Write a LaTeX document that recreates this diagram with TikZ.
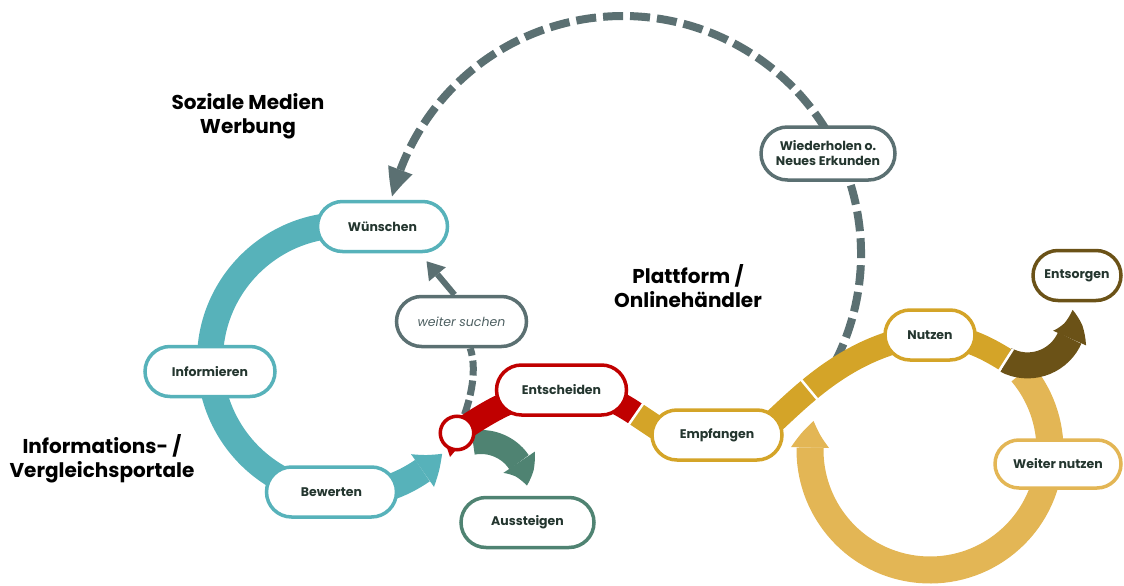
\documentclass[tikz,border=0pt]{standalone}
\usepackage{fontspec}
\setmainfont{Poppins}
\usetikzlibrary{arrows.meta,bending,shapes.misc,backgrounds,calc}
\definecolor{cteal}{HTML}{57B2BA}
\definecolor{cred}{HTML}{C00000}
\definecolor{cgreen}{HTML}{4F8372}
\definecolor{cgold}{HTML}{D4A428}
\definecolor{clgold}{HTML}{E3B655}
\definecolor{cbrown}{HTML}{6B5217}
\definecolor{cgray}{HTML}{5B7072}
\definecolor{ctext}{HTML}{24362F}
\begin{document}
\begin{tikzpicture}[x=1pt,y=-1pt,
  box/.style={rounded rectangle, draw=#1, line width=3.5pt, fill=white,
    minimum width=132pt, minimum height=50pt, inner sep=1pt, text=ctext,
    font=\fontsize{12.5}{15}\selectfont\bfseries, align=center},
  lbl/.style={font=\fontsize{20}{24}\selectfont\bfseries, align=center, text=black},
  sepline/.style={white, line width=2.5pt},
  headtip/.style n args={2}{-{Triangle[length=#1 0 0, width=#2 0 0, line width=0pt, bend]}}
]
\useasboundingbox (0,0) rectangle (1124,586);

% centres of the arcs and junction points
\coordinate (cT) at (345,360);
\coordinate (cL) at (930,450);
\coordinate (cD) at (623,254);
\coordinate (cG) at (481,488);
\coordinate (j1) at (636,414);
\coordinate (j1b) at (672,438);
\coordinate (j2) at (809.3,389.6);
\coordinate (j3) at (1006,360);

% nodes
\node[box=cteal] (wun) at (382.5,226.5) {Wünschen};
\node[box=cteal] (inf) at (210,371.5) {Informieren};
\node[box=cteal] (bew) at (331.5,492) {Bewerten};
\node[box=cgray, text=cgray!85!black, font=\fontsize{12.5}{15}\selectfont\itshape] (wsu) at (461.5,321.5) {weiter suchen};
\node[box=cred] (ent) at (561.5,390) {Entscheiden};
\node[box=cgreen, minimum width=135pt] (aus) at (527.5,522.5) {Aussteigen};
\node[box=cgold] (emp) at (717,435) {Empfangen};
\node[box=cgold, minimum width=92pt] (nut) at (930,335) {Nutzen};
\node[box=clgold, minimum width=128pt, minimum height=48pt] (wnu) at (1058,464) {Weiter nutzen};
\node[box=cbrown, minimum width=90pt] (ents) at (1077,275.5) {Entsorgen};
\node[box=cgray, minimum width=136pt, minimum height=53pt] (wie) at (828,153.5) {Wiederholen o.\\Neues Erkunden};
\node[circle, draw=cred, line width=3.5pt, fill=white, minimum size=33.5pt, inner sep=0pt] (dec) at (457,433) {};
\fill[cred] (447,448) -- (455,451) -- (450,457) -- cycle;

% labels
\node[lbl] (l1) at (248,116) {Soziale Medien\\Werbung};
\node[lbl] (l2) at (688,286.5) {Plattform /\\Onlinehändler};
\node[lbl] (l3) at (102,459) {Informations- /\\Vergleichsportale};

\begin{scope}[on background layer]
  % big dashed return arc
  \draw[cgray, line width=8pt, dash pattern=on 20pt off 7pt, headtip={28pt}{26pt}]
    ($(cD)+(27:238)$) arc[start angle=27, end angle=-166, radius=238];
  % dashed from decision to weiter suchen
  \draw[cgray, line width=7pt, dash pattern=on 15pt off 5pt]
    (dec.center) .. controls (470,405) and (478,372) .. (wsu);
  % weiter suchen -> Wuenschen
  \draw[cgray, line width=6pt, -{Triangle[length=17pt 0 0, width=22pt 0 0, line width=0pt]}]
    ([xshift=-7pt]wsu.north) -- ([xshift=44pt,yshift=-8pt]wun.south);
  % teal cycle
  \draw[cteal, line width=26pt, headtip={26pt}{40pt}]
    ($(cT)+(268:135)$) arc[start angle=268, end angle=44, radius=135];
  % light gold loop
  \draw[clgold, line width=27pt, headtip={27pt}{38pt}]
    ($(cL)+(-40:120)$) arc[start angle=-40, end angle=194, radius=120];
  % gold: Empfangen -> Nutzen -> j3
  \draw[cgold, line width=24pt]
    ([shift={(53,-10)}]emp.center) .. controls (800,398) and (850,343) .. (nut.center)
    .. controls (962,335) and (985,347) .. (j3);
  % brown to Entsorgen
  \draw[cbrown, line width=26pt, headtip={29pt}{36pt}]
    (j3) arc[start angle=118, end angle=-12, radius=46];
  % green to Aussteigen
  \draw[cgreen, line width=24pt, headtip={25pt}{38pt}]
    ($(cG)+(-100:46)$) arc[start angle=-100, end angle=-3, radius=46];
  % red: decision -> Entscheiden -> j1, then gold to Empfangen
  \draw[cred, line width=24pt]
    (dec.center) .. controls (490,410) and (525,390) .. (ent.center)
    .. controls (595,390) and (615,400) .. (j1);
  \draw[cgold, line width=24pt] (j1) -- (j1b);
  % white seams
  \draw[sepline] ([shift={(-9,13)}]j1) -- ([shift={(9,-13)}]j1);
  \draw[sepline] ([shift={(-9.6,-11.6)}]j2) -- ([shift={(9.6,11.6)}]j2);
  \draw[sepline] ([shift={(-7,11)}]j3) -- ([shift={(7,-11)}]j3);
\end{scope}
\end{tikzpicture}
\end{document}
